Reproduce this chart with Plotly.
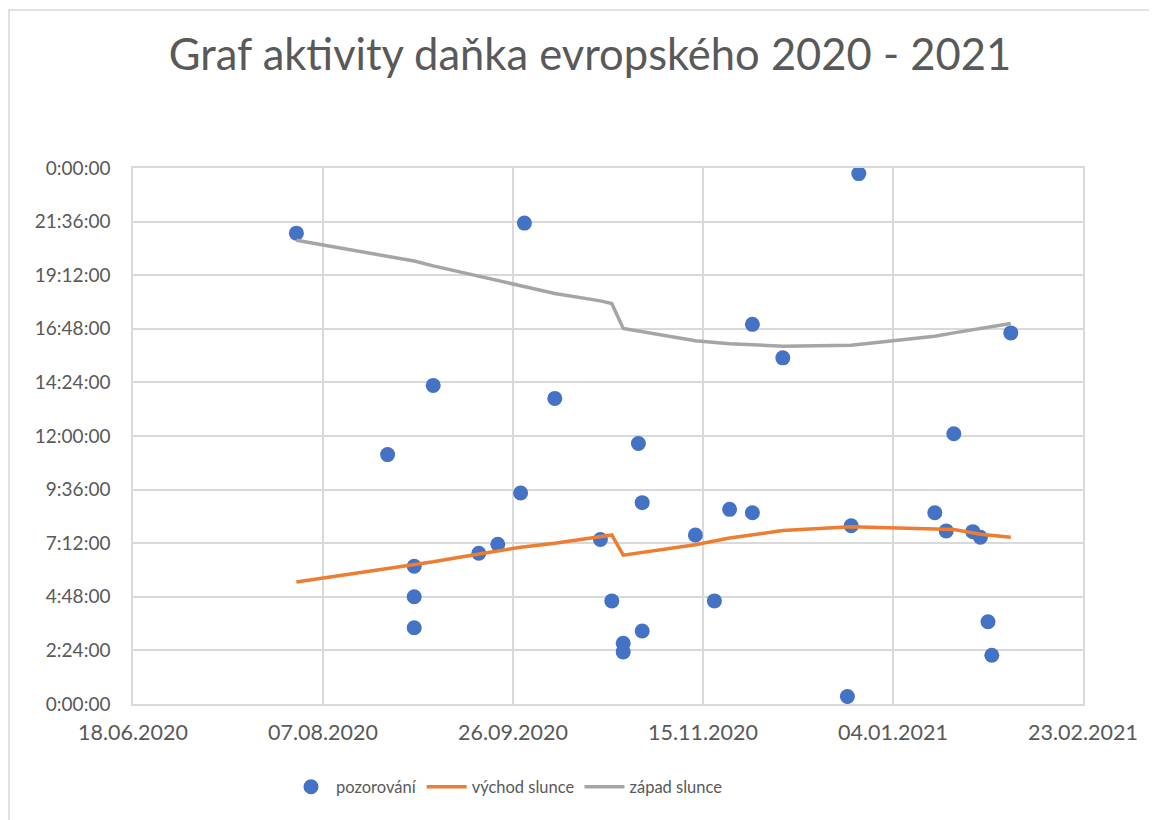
import plotly.graph_objects as go

# --- data ---------------------------------------------------------------
obs_dates = ["2020-07-31", "2020-08-24", "2020-08-31", "2020-08-31", "2020-08-31",
             "2020-09-05", "2020-09-17", "2020-09-22", "2020-09-28", "2020-09-29",
             "2020-10-07", "2020-10-19", "2020-10-22", "2020-10-25", "2020-10-25",
             "2020-10-29", "2020-10-30", "2020-10-30", "2020-11-13", "2020-11-18",
             "2020-11-22", "2020-11-28", "2020-11-28", "2020-12-06", "2020-12-23",
             "2020-12-24", "2020-12-26", "2021-01-15", "2021-01-18", "2021-01-20",
             "2021-01-25", "2021-01-27", "2021-01-29", "2021-01-30", "2021-02-04"]
obs_times = ["21:05", "11:10", "6:10", "4:48", "3:25",
             "14:16", "6:45", "7:09", "9:27", "21:32",
             "13:41", "7:22", "4:37", "2:43", "2:20",
             "11:40", "9:01", "3:16", "7:34", "4:37",
             "8:43", "17:00", "8:34", "15:30", "0:20",
             "7:59", "23:45", "8:34", "7:45", "12:06",
             "7:43", "7:28", "3:41", "2:11", "16:37"]

sun_dates = ["2020-07-31", "2020-08-24", "2020-08-31", "2020-09-05", "2020-09-17",
             "2020-09-22", "2020-09-28", "2020-10-07", "2020-10-19", "2020-10-22",
             "2020-10-25", "2020-10-30", "2020-11-13", "2020-11-22", "2020-12-06",
             "2020-12-24", "2021-01-15", "2021-01-20", "2021-01-27", "2021-02-04"]
sunrise = ["5:28", "6:04", "6:14", "6:22", "6:43",
           "6:52", "7:01", "7:12", "7:28", "7:34",
           "6:40", "6:47", "7:08", "7:26", "7:46",
           "7:56", "7:52", "7:49", "7:36", "7:28"]
sunset = ["20:46", "20:03", "19:50", "19:37", "19:09",
          "18:56", "18:43", "18:23", "18:03", "17:56",
          "16:49", "16:40", "16:16", "16:08", "16:01",
          "16:04", "16:28", "16:37", "16:48", "17:02"]

x_ticks = ["2020-06-18", "2020-08-07", "2020-09-26", "2020-11-15", "2021-01-04", "2021-02-23"]
y_tick_labels = ["0:00:00", "2:24:00", "4:48:00", "7:12:00", "9:36:00", "12:00:00",
                 "14:24:00", "16:48:00", "19:12:00", "21:36:00", "0:00:00"]


def to_hours(t):
    h, m = t.split(":")
    return int(h) + int(m) / 60.0


FONT = "Lato"
GREY_TXT = "#595959"
GRID = "#d9d9d9"

# the page body adds an 8px offset; the figure is sized to fill the rest
W, H = 1149, 812
ML, MT = 125, 160
MR = W - 1075
MB = H - 696
PW = W - ML - MR
PH = H - MT - MB

fig = go.Figure()
fig.add_trace(go.Scatter(
    x=obs_dates, y=[to_hours(t) for t in obs_times], mode="markers",
    name="pozorování",
    marker=dict(color="#4472C4", size=15, line=dict(width=0)),
))
fig.add_trace(go.Scatter(
    x=sun_dates, y=[to_hours(t) for t in sunrise], mode="lines",
    name="východ slunce", line=dict(color="#ED7D31", width=3.5),
))
fig.add_trace(go.Scatter(
    x=sun_dates, y=[to_hours(t) for t in sunset], mode="lines",
    name="západ slunce", line=dict(color="#A5A5A5", width=3.5),
))

y_vals = [i * 2.4 for i in range(len(y_tick_labels))]

fig.update_layout(
    width=W, height=H,
    margin=dict(l=ML, r=MR, t=MT, b=MB, pad=0),
    paper_bgcolor="white", plot_bgcolor="white",
    font=dict(family=FONT, color=GREY_TXT),
    title=dict(text="Graf aktivity daňka evropského 2020 - 2021",
               x=582 / W, xanchor="center", y=1 - 47 / H, yanchor="middle",
               font=dict(family=FONT, size=43.5, color=GREY_TXT)),
    showlegend=True,
    legend=dict(orientation="h", x=(278 - ML) / PW, xanchor="left",
                y=-(779 - 696) / PH, yanchor="middle",
                font=dict(family=FONT, size=16.5, color=GREY_TXT),
                itemwidth=40, bgcolor="rgba(0,0,0,0)"),
    xaxis=dict(
        type="date", range=["2020-06-18", "2021-02-23"],
        tickvals=x_ticks, tickformat="%d.%m.%Y",
        showgrid=True, gridcolor=GRID, gridwidth=1.5,
        showline=True, linecolor=GRID, linewidth=1.5, mirror=True,
        ticks="", ticklabelstandoff=8,
        tickfont=dict(family=FONT, size=21.5, color=GREY_TXT),
        zeroline=False,
    ),
    yaxis=dict(
        range=[0, 24], tickvals=y_vals, ticktext=y_tick_labels,
        showgrid=True, gridcolor=GRID, gridwidth=1.5,
        showline=True, linecolor=GRID, linewidth=1.5, mirror=True,
        ticks="", ticklabelstandoff=17,
        tickfont=dict(family=FONT, size=19, color=GREY_TXT),
        zeroline=False,
    ),
    shapes=[dict(type="rect", xref="paper", yref="paper",
                 x0=(1 - ML) / PW, x1=1.3,
                 y0=-0.4, y1=(696 - 2) / PH,
                 line=dict(color=GRID, width=1.5), fillcolor="rgba(0,0,0,0)",
                 layer="below")],
)

fig.write_html("out.html")
